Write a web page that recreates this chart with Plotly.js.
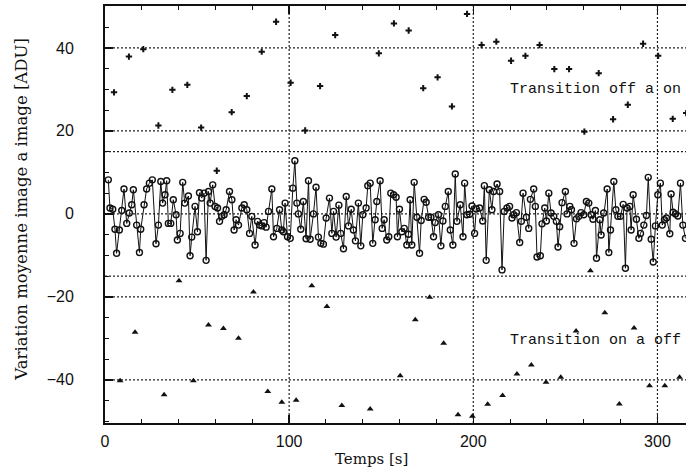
<!DOCTYPE html>
<html>
<head>
<meta charset="utf-8">
<script src="https://cdn.plot.ly/plotly-3.0.1.min.js"></script>
<style>html,body{margin:0;padding:0;background:#fff;}#chart{width:686px;height:470px;}</style>
</head>
<body>
<div id="chart"></div>
<script>
// Mean frame-to-frame variation (open circles, joined)
const meanTime = [1.8,2.7,4.2,5.4,6.3,7.8,9.1,10.3,11.8,13.2,14.5,15.4,17.2,18.7,19.4,21.2,22.6,24.1,25.7,27.7,29.0,30.3,31.3,32.6,33.5,34.4,35.7,37.1,38.6,39.3,40.8,42.2,43.3,45.3,46.2,47.1,48.9,50.2,51.3,52.5,53.8,54.9,56.2,57.1,58.5,59.8,61.1,62.2,63.4,64.7,65.8,67.6,68.9,70.1,71.2,72.5,74.3,75.6,77.0,78.5,79.7,81.5,82.8,83.9,85.2,86.4,87.5,88.8,90.6,91.5,93.3,94.8,96.0,96.9,97.8,99.1,100.6,102.0,103.1,104.2,
105.0,106.3,107.7,109.2,110.5,111.4,113.2,114.6,115.9,117.2,118.6,120.1,121.9,123.2,124.1,125.5,127.0,128.0,129.5,131.0,132.2,133.7,134.9,136.0,137.6,138.9,140.0,141.8,142.7,144.0,145.4,146.7,147.6,149.4,150.5,151.6,153.0,154.1,155.2,156.7,158.1,158.8,159.9,161.2,162.5,163.9,164.8,165.7,166.6,167.9,169.4,170.8,171.7,173.3,174.4,175.7,177.0,178.4,179.3,181.1,182.4,183.5,184.8,186.4,187.5,188.9,190.2,191.1,192.9,194.4,195.3,196.5,198.0,199.3,200.7,201.6,203.4,205.1,206.0,207.0,208.7,
210.1,211.0,212.9,214.3,215.6,216.8,218.3,219.7,221.0,221.9,223.4,225.2,226.1,227.0,228.8,230.1,231.0,232.8,233.7,234.6,236.4,237.3,238.8,239.7,241.0,242.2,243.7,245.1,246.0,246.9,248.2,250.0,250.9,252.4,253.3,254.7,256.0,257.3,258.5,260.0,261.4,262.7,264.0,265.0,266.3,266.9,268.7,269.4,270.8,272.7,273.6,274.5,276.3,277.4,278.5,279.9,281.4,282.6,283.5,285.0,285.7,286.8,288.6,289.9,290.8,292.6,294.0,295.0,296.6,297.7,298.9,300.2,301.6,302.6,303.8,304.9,306.7,307.4,308.5,309.8,311.1,312.5,313.8,315.2];
const meanVar = [8.2,1.4,1.1,-3.7,-9.5,-3.9,0.8,6.0,-2.3,0.2,2.2,5.8,-2.7,-9.3,-3.7,2.2,6.0,7.4,8.2,-7.2,-2.7,7.8,2.6,4.6,8.0,-2.3,-2.3,3.4,-0.2,-6.3,-4.7,7.6,2.6,4.3,-10.1,-5.6,1.8,-4.3,5.1,3.8,5.0,-11.2,5.4,2.6,7.0,1.8,1.4,-1.8,-0.6,-0.2,1.0,5.4,3.4,-3.9,-1.4,-2.7,1.4,2.2,1.0,-4.7,-0.6,-7.5,-1.8,-2.7,-2.9,-2.1,-3.2,0.6,6.0,-5.5,-3.5,1.0,-3.9,-4.3,2.6,-5.5,-5.9,6.2,12.8,2.6,
0.0,-3.7,3.0,-6.0,8.0,-6.1,0.0,6.4,-5.6,-7.1,-7.3,-1.0,3.8,-4.7,0.6,-5.6,2.1,-4.7,-8.4,4.2,-2.9,1.1,-3.9,-6.5,2.6,-7.7,-0.2,1.4,6.8,7.4,-7.1,-1.4,3.0,8.0,-3.5,-1.4,-6.3,-5.5,5.0,4.6,4.0,-5.5,1.1,-4.3,-3.5,-7.5,-4.9,3.4,-7.5,7.6,-0.8,-9.5,-1.6,3.5,2.8,-0.8,-0.8,-5.5,-2.1,-0.2,-7.7,-1.7,1.8,5.4,-3.9,-7.5,9.6,-1.8,2.2,-5.5,7.4,-0.2,-0.1,1.9,-4.7,1.2,1.4,-1.7,6.8,-11.2,5.8,
1.0,5.4,7.2,5.4,-13.5,0.6,1.4,1.8,-1.0,-0.2,0.3,-6.9,-1.8,5.0,-0.8,-3.5,3.5,6.0,1.8,-10.4,-10.1,-2.4,1.4,-1.7,5.0,0.2,-0.6,-1.8,-8.0,-3.1,2.7,5.4,0.0,1.8,1.0,-7.1,-1.2,-0.6,0.3,-0.2,3.0,2.6,-0.2,-1.3,0.8,-10.7,-1.4,-5.1,0.2,6.0,-9.3,-3.9,7.8,1.0,-0.6,-0.6,2.3,-13.1,1.4,1.8,-3.9,4.6,-1.3,-5.9,-4.7,-2.7,-0.4,8.8,-6.1,-11.6,-2.9,4.6,7.4,-2.7,-1.4,-1.0,-4.8,4.8,0.4,0.0,-0.5,7.4,-2.7,-5.9];

// Transition off -> on (crosses)
const offOnTime = [4.9,13.0,20.8,29.0,36.6,44.7,52.2,60.7,68.8,77.0,85.1,92.9,100.8,108.7,116.8,125.0,148.7,156.9,164.9,172.8,180.6,188.4,196.6,204.5,212.5,220.5,228.3,236.0,244.0,252.0,260.3,268.1,275.9,283.9,292.2,300.4,308.3,315.6];
const offOnVar  = [29.3,37.9,39.7,21.3,29.9,31.1,20.8,10.4,24.5,28.4,39.1,46.3,31.6,20.1,30.8,43.1,38.7,45.9,44.2,30.3,32.9,25.9,48.2,40.7,41.5,36.9,38.1,40.7,34.9,34.9,19.8,33.9,22.8,26.3,41.0,38.1,22.9,24.3];

// Transition on -> off (triangles)
const onOffTime = [8.2,16.3,32.1,40.2,48.0,56.2,64.3,72.5,80.6,88.4,96.0,103.8,112.3,120.5,128.6,144.0,160.3,168.5,176.3,183.9,191.7,199.5,207.8,215.9,223.7,231.5,239.5,247.5,255.8,263.6,271.4,279.3,287.3,295.7,304.0,312.0];
const onOffVar  = [-40.2,-28.5,-43.6,-16.1,-40.2,-26.8,-27.6,-30.0,-18.8,-42.8,-45.4,-44.9,-17.3,-22.3,-46.2,-47.0,-39.0,-25.5,-20.1,-31.2,-48.4,-48.8,-45.9,-43.8,-38.6,-36.4,-40.6,-39.4,-28.2,-13.7,-23.8,-45.8,-27.5,-41.4,-41.4,-39.4];

// Reference lines and labels
const hLines = [40, 20, 15, 0, -15, -20, -40];
const vLines = [100, 200, 300];
const yTicks = [-40, -20, 0, 20, 40];
const xTicks = [0, 100, 200, 300];
const labelUpper = 'Transition off a on';
const labelLower = 'Transition on a off';
const xTitle = 'Temps [s]';
const yTitle = 'Variation moyenne image a image [ADU]';

const XR = [0, 315.5], YR = [-50.4, 50.1];

const traces = [
  {x: meanTime, y: meanVar, type: 'scatter', mode: 'lines+markers',
   line: {color: '#111', width: 1},
   marker: {symbol: 'circle-open', size: 6, color: '#111', line: {width: 1.4}},
   hoverinfo: 'skip'},
  {x: offOnTime, y: offOnVar, type: 'scatter', mode: 'markers',
   marker: {symbol: 'cross-thin', size: 4.5, color: '#111', line: {width: 2, color: '#111'}}},
  {x: onOffTime, y: onOffVar, type: 'scatter', mode: 'markers',
   marker: {symbol: 'triangle-up', size: 6, color: '#111', line: {width: 0}}}
];

const shapes = [];
hLines.forEach(v => shapes.push({type: 'line', xref: 'paper', x0: 0, x1: 1, yref: 'y', y0: v, y1: v,
  line: {color: '#222', width: 1.2, dash: '2px,2px'}, layer: 'below'}));
vLines.forEach(v => shapes.push({type: 'line', yref: 'paper', y0: 0, y1: 1, xref: 'x', x0: v, x1: v,
  line: {color: '#222', width: 1.2, dash: '2px,2px'}, layer: 'below'}));

const layout = {
  width: 686, height: 470,
  margin: {l: 105, r: 0, t: 6, b: 47},
  paper_bgcolor: '#fff', plot_bgcolor: '#fff',
  showlegend: false,
  font: {family: 'Liberation Sans, Arial, sans-serif', size: 15, color: '#111'},
  xaxis: {range: XR, showgrid: false, zeroline: false, showline: true, linecolor: '#111', linewidth: 2,
    mirror: 'ticks', ticks: 'inside', ticklen: 8, tickwidth: 1.3, tickcolor: '#111',
    tickvals: xTicks, ticktext: xTicks.map(String),
    minor: {dtick: 20, ticks: 'inside', ticklen: 4, tickwidth: 1, tickcolor: '#111'},
    ticklabelstandoff: 3, tickfont: {size: 16}},
  yaxis: {range: YR, showgrid: false, zeroline: false, showline: true, linecolor: '#111', linewidth: 2,
    ticks: 'inside', ticklen: 8, tickwidth: 1.3, tickcolor: '#111',
    tickvals: yTicks, ticktext: yTicks.map(v => v < 0 ? '\u2212' + Math.abs(v) : String(v)),
    minor: {dtick: 5, ticks: 'inside', ticklen: 4, tickwidth: 1, tickcolor: '#111'},
    ticklabelstandoff: 26, tickfont: {size: 16}},
  shapes: shapes,
  annotations: [
    {text: labelUpper, xref: 'x', yref: 'y', x: 266.3, y: 29.9, showarrow: false,
     font: {family: 'Liberation Mono, Courier New, monospace', size: 15, color: '#111'}},
    {text: labelLower, xref: 'x', yref: 'y', x: 266.3, y: -30.6, showarrow: false,
     font: {family: 'Liberation Mono, Courier New, monospace', size: 15, color: '#111'}},
    {text: xTitle, xref: 'x', yref: 'paper', x: 144.6, y: 0, yanchor: 'top', yshift: -25, showarrow: false,
     font: {family: 'DejaVu Serif, serif', size: 15, color: '#111'}},
    {text: yTitle, xref: 'paper', yref: 'y', x: 0, y: 1.0, xanchor: 'center', yanchor: 'middle', xshift: -83,
     textangle: -90, showarrow: false,
     font: {family: 'DejaVu Serif, serif', size: 16.5, color: '#111'}}
  ]
};

Plotly.newPlot('chart', traces, layout, {staticPlot: true, displayModeBar: false});
</script>
</body>
</html>
